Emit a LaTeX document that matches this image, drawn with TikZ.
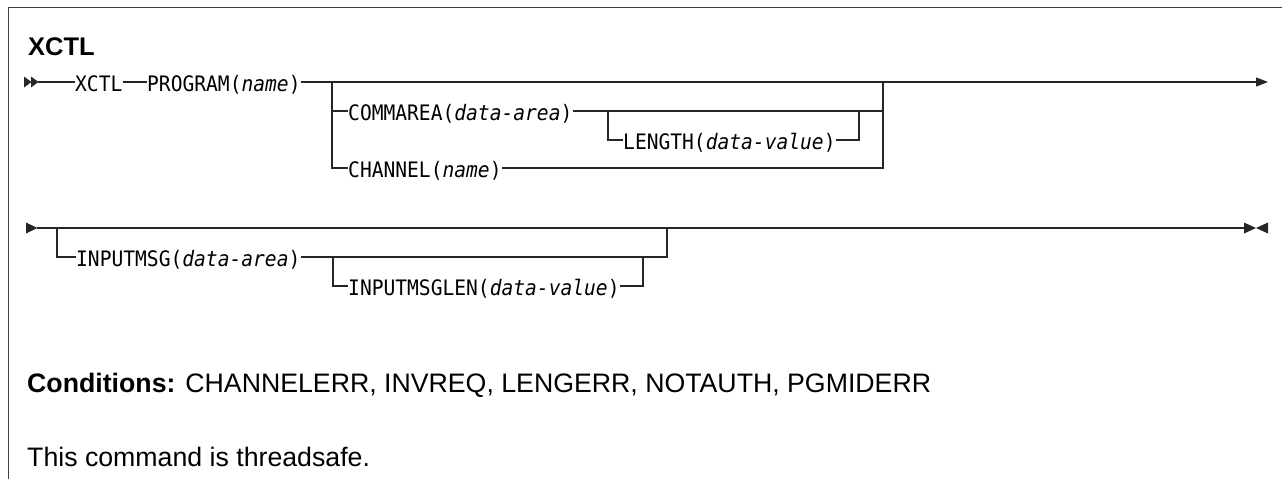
\documentclass[tikz,border=0pt]{standalone}
\usepackage{fontspec}
\setmainfont{Liberation Sans}
\newfontfamily\railfont[FakeStretch=0.92]{DejaVu Sans Mono}
\usetikzlibrary{positioning,arrows.meta}

\begin{document}
\begin{tikzpicture}[x=1pt,y=-1pt,>={Triangle[length=12pt,width=9pt]},
  rail/.style={draw=black!85,line width=1.2pt},
  kw/.style={font=\railfont\fontsize{21.3}{24}\selectfont,inner sep=0pt,
    text height=19pt,text depth=0pt,anchor=west},
  tip/.style={fill=black!85},
  body/.style={font=\fontsize{26.7}{32}\selectfont,inner sep=0pt,anchor=base west}]
\useasboundingbox (0,0) rectangle (1282,479);
% frame
\draw[line width=1.5pt,black!75] (8.5,479) -- (8.5,7.5) -- (1282,7.5);
\node (title) [body,font=\bfseries\fontsize{25.5}{30}\selectfont] at (28,55) {XCTL};

% first line
\fill[tip] (24,76.5) -- (31.5,82) -- (24,87.5) -- cycle;
\fill[tip] (31,76.5) -- (38.5,82) -- (31,87.5) -- cycle;
\coordinate (l1s) at (38,82);
\node (xctl) [kw] at (75,82) {XCTL};
\node (prog) [kw] at (147,82) {PROGRAM(\textit{name})};
\node (comm) [kw] at (348,111) {COMMAREA(\textit{data-area})};
\node (len) [kw] at (623,140) {LENGTH(\textit{data-value})};
\node (chan) [kw] at (348,168) {CHANNEL(\textit{name})};
\coordinate (b1) at (332,82);
\coordinate (b1r) at (883,82);
\coordinate (lenl) at (608,111);
\coordinate (lenr) at (859,111);
\coordinate (l1e) at (1268,82);
\draw[rail] (l1s) -- (xctl.west);
\draw[rail] (xctl.east) -- (prog.west);
\draw[rail,->] (prog.east) -- (l1e);
\draw[rail] (b1) |- (chan.west);
\draw[rail] (b1 |- comm.west) -- (comm.west);
\draw[rail] (comm.east) -- (comm.east -| b1r);
\draw[rail] (chan.east) -| (b1r);
\draw[rail] (lenl) |- (len.west);
\draw[rail] (len.east) -| (lenr);

% second line
\fill[tip] (26,222.5) -- (37.5,228) -- (26,233.5) -- cycle;
\coordinate (l2s) at (37,228);
\node (inp) [kw] at (76,257) {INPUTMSG(\textit{data-area})};
\node (inl) [kw] at (348,286) {INPUTMSGLEN(\textit{data-value})};
\coordinate (b2) at (57,228);
\coordinate (b2r) at (667,228);
\coordinate (inpl) at (333,257);
\coordinate (inlr) at (643,257);
\coordinate (l2e) at (1244,228);
\draw[rail] (l2s) -- (l2e);
\draw[rail] (b2) |- (inp.west);
\draw[rail] (inp.east) -| (b2r);
\draw[rail] (inpl) |- (inl.west);
\draw[rail] (inl.east) -| (inlr);
\draw[line width=2.2pt,black!85] (672,228) -- (697,228);
\fill[tip] (1244,222.5) -- (1256,228) -- (1244,233.5) -- cycle;
\fill[tip] (1268,222.5) -- (1256,228) -- (1268,233.5) -- cycle;

% text below
\node (cond) [body] at (27,392) {\textbf{Conditions:} CHANNELERR, INVREQ, LENGERR, NOTAUTH, PGMIDERR};
\node (thr) [body] at (27,466) {This command is threadsafe.};
\end{tikzpicture}
\end{document}
